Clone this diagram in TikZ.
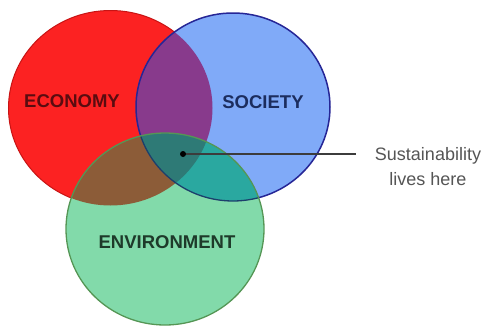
\documentclass[tikz,border=0pt]{standalone}
\usepackage{fontspec}
\setmainfont{Liberation Sans}
\definecolor{redfill}{RGB}{252,34,34}
\definecolor{redline}{RGB}{200,20,20}
\definecolor{bluefill}{RGB}{128,170,248}
\definecolor{blueline}{RGB}{38,38,150}
\definecolor{greenfill}{RGB}{130,218,170}
\definecolor{greenline}{RGB}{85,150,85}
\definecolor{rbfill}{RGB}{136,58,140}
\definecolor{rgfill}{RGB}{140,92,56}
\definecolor{bgfill}{RGB}{42,168,160}
\definecolor{rbgfill}{RGB}{46,122,118}
\definecolor{econtext}{RGB}{90,12,16}
\definecolor{soctext}{RGB}{28,45,94}
\definecolor{envtext}{RGB}{30,58,42}
\definecolor{notetext}{RGB}{85,85,85}
\definecolor{pointer}{RGB}{60,60,60}
\tikzset{
  biglabel/.style={font=\fontsize{18.5}{22}\selectfont\bfseries, anchor=base, inner sep=0pt},
  note/.style={font=\fontsize{18}{25}\selectfont, align=center, text=notetext, inner sep=0pt},
}
\newcommand{\redshape}{(110.5,108) ellipse [x radius=102pt, y radius=97.5pt]}
\newcommand{\blueshape}{(233,107) ellipse [x radius=97pt, y radius=94pt]}
\newcommand{\greenshape}{(165,229) ellipse [x radius=99pt, y radius=96pt]}
\begin{document}
\begin{tikzpicture}[x=1pt,y=-1pt]
\useasboundingbox (0,0) rectangle (488,327);
\fill[white] (0,0) rectangle (488,327);
% red
\fill[redfill] \redshape;
\draw[redline, line width=1pt] \redshape;
% blue
\fill[bluefill] \blueshape;
\begin{scope}
  \clip \redshape;
  \fill[rbfill] \blueshape;
\end{scope}
\draw[blueline, line width=1.5pt] \blueshape;
% green
\fill[greenfill] \greenshape;
\begin{scope}
  \clip \redshape;
  \fill[rgfill] \greenshape;
\end{scope}
\begin{scope}
  \clip \blueshape;
  \fill[bgfill] \greenshape;
\end{scope}
\begin{scope}
  \clip \redshape;
  \clip \blueshape;
  \fill[rbgfill] \greenshape;
\end{scope}
\begin{scope}
  \clip \greenshape;
  \draw[blueline!60!bgfill!70!black, line width=1.3pt] \blueshape;
\end{scope}
\draw[greenline, line width=1.3pt] \greenshape;
% labels
\node[biglabel, text=econtext] (econ) at (72,107.5) {ECONOMY};
\node[biglabel, text=soctext] (soc) at (263,108) {SOCIETY};
\node[biglabel, text=envtext] (env) at (167,248) {ENVIRONMENT};
\node[note] (txt) at (428,167) {Sustainability\\lives here};
\coordinate (dot) at (183,154);
\draw[pointer, line width=1.6pt, shorten <=19pt] (txt.west |- dot) -- (dot);
\fill[black] (dot) circle (3pt);
\end{tikzpicture}
\end{document}
